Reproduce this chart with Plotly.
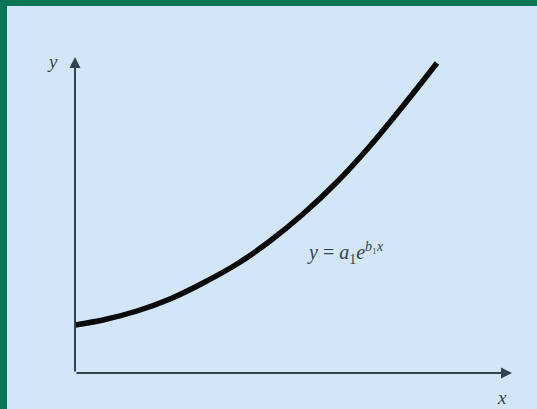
import plotly.graph_objects as go

# points (x from y-axis, y from x-axis, arbitrary units)
curve_x = [0, 0.28, 0.62, 0.95, 1.28, 1.62, 1.95, 2.28, 2.62, 2.95, 3.28, 3.62]
curve_y = [0.48, 0.53, 0.62, 0.74, 0.90, 1.09, 1.32, 1.59, 1.91, 2.27, 2.67, 3.10]

x_axis_end = 4.37
y_axis_end = 3.16
eq_label = "<i>y</i> = <i>a</i><sub>1</sub><i>e</i><sup><i>b</i>\u2081<i>x</i></sup>"

bg = "#d3e6f7"
green = "#0c7555"
axis_col = "#34424b"

fig = go.Figure()

fig.add_trace(go.Scatter(
    x=curve_x, y=curve_y, mode="lines",
    line=dict(color="#0a0a0a", width=5.5, shape="spline", smoothing=0.8),
    hoverinfo="skip", showlegend=False,
))

# axes with arrow heads
fig.add_annotation(x=x_axis_end, y=0, ax=0, ay=0, xref="x", yref="y",
                   axref="x", ayref="y", text="", showarrow=True,
                   arrowhead=2, arrowsize=1.1, arrowwidth=2, arrowcolor=axis_col)
fig.add_annotation(x=0, y=y_axis_end, ax=0, ay=0, xref="x", yref="y",
                   axref="x", ayref="y", text="", showarrow=True,
                   arrowhead=2, arrowsize=1.1, arrowwidth=2, arrowcolor=axis_col)

serif = dict(family="Liberation Serif, Times New Roman, serif", size=19, color="#3a4650")
fig.add_annotation(x=-0.23, y=3.12, text="<i>y</i>", showarrow=False, font=serif)
fig.add_annotation(x=4.27, y=-0.24, text="<i>x</i>", showarrow=False, font=serif)
fig.add_annotation(x=2.70, y=1.2, text=eq_label, showarrow=False,
                   font=dict(family="Liberation Serif, Times New Roman, serif",
                             size=20, color="#36424c"))

# green frame on left and top
fig.add_shape(type="rect", xref="paper", yref="paper", x0=0, x1=7 / 537,
              y0=0, y1=1, fillcolor=green, line_width=0, layer="above")
fig.add_shape(type="rect", xref="paper", yref="paper", x0=0, x1=1,
              y0=1 - 6 / 409, y1=1, fillcolor=green, line_width=0, layer="above")

fig.update_xaxes(range=[-0.75, 4.62], visible=False)
fig.update_yaxes(range=[-0.36, 3.73], visible=False)
fig.update_layout(
    width=537, height=409,
    margin=dict(l=0, r=0, t=0, b=0),
    paper_bgcolor=bg, plot_bgcolor=bg,
)

fig.write_html("out.html", config={"displayModeBar": False},
               post_script="document.body.style.margin='0';")
